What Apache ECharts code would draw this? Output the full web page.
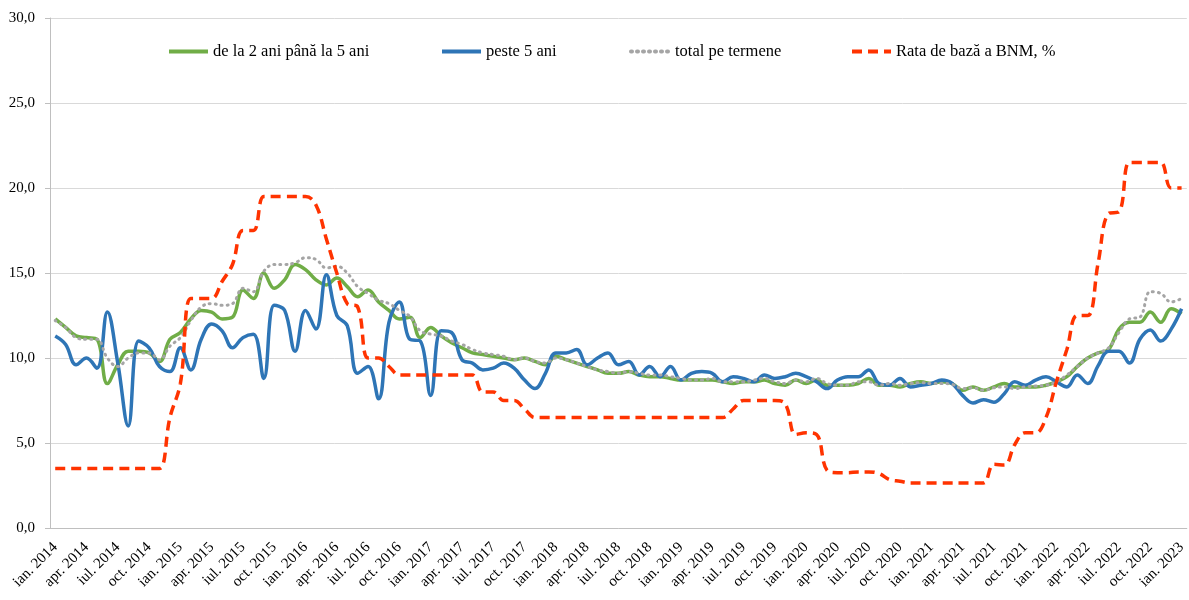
<!DOCTYPE html>
<html>
<head>
<meta charset="utf-8">
<script src="https://cdn.jsdelivr.net/npm/echarts@6/dist/echarts.min.js"></script>
<style>
  html, body { margin: 0; padding: 0; background: #fff; }
  #chart { width: 1189px; height: 600px; }
</style>
</head>
<body>
<div id="chart"></div>
<script>
// luni si ani pentru axa x (ian. 2014 - ian. 2023)
var monthNames = ["ian.", "feb.", "mar.", "apr.", "mai", "iun.", "iul.", "aug.", "sep.", "oct.", "nov.", "dec."];
var years = [2014, 2015, 2016, 2017, 2018, 2019, 2020, 2021, 2022, 2023];

var categories = [];
for (var y = 0; y < years.length; y++) {
    for (var m = 0; m < 12; m++) {
        if (years[y] === 2023 && m > 0) break;
        categories.push(monthNames[m] + " " + years[y]);
    }
}

var intermediar = [
    12.3, 11.8, 11.3, 11.2, 11.1, 8.5, 9.6, 10.4, 10.4, 10.3, 9.8, 11.1,
    11.5, 12.3, 12.8, 12.7, 12.3, 12.4, 14.0, 13.5, 15.0, 14.1, 14.6, 15.5,
    15.2, 14.6, 14.3, 14.7, 14.2, 13.6, 14.0, 13.3, 12.8, 12.3, 12.4, 11.2,
    11.8, 11.3, 10.9, 10.6, 10.3, 10.2, 10.1, 10.0, 9.9, 10.0, 9.8, 9.6,
    10.1, 9.9, 9.7, 9.5, 9.3, 9.1, 9.1, 9.2, 9.0, 8.9, 8.9, 8.8,
    8.7, 8.7, 8.7, 8.7, 8.6, 8.5, 8.6, 8.6, 8.7, 8.5, 8.4, 8.7,
    8.5, 8.7, 8.4, 8.4, 8.4, 8.5, 8.8, 8.4, 8.4, 8.3, 8.5, 8.6,
    8.5, 8.6, 8.5, 8.1, 8.3, 8.1, 8.3, 8.5, 8.3, 8.3, 8.3, 8.4,
    8.6, 8.9, 9.5, 10.0, 10.3, 10.5, 11.7, 12.1, 12.1, 12.7, 12.1, 12.9,
    12.6
];

var peste5 = [
    11.3, 10.8, 9.6, 10.0, 9.4, 12.7, 9.7, 6.0, 11.0, 10.6, 9.5, 9.2,
    10.6, 9.3, 11.1, 12.0, 11.6, 10.6, 11.2, 11.4, 8.8, 13.1, 12.8, 10.4,
    12.8, 11.7, 14.9, 12.5, 11.9, 9.1, 9.5, 7.6, 12.1, 13.3, 11.1, 11.0,
    7.8, 11.6, 11.5, 9.9, 9.7, 9.3, 9.4, 9.7, 9.4, 8.7, 8.2, 9.1,
    10.3, 10.3, 10.5, 9.6, 10.0, 10.3, 9.6, 9.8, 9.0, 9.5, 8.9, 9.5,
    8.7, 9.1, 9.2, 9.1, 8.6, 8.9, 8.8, 8.6, 9.0, 8.8, 8.9, 9.1,
    8.9, 8.6, 8.2, 8.7, 8.9, 8.9, 9.3, 8.5, 8.4, 8.8, 8.3, 8.4,
    8.5, 8.7, 8.5, 7.8, 7.35, 7.55, 7.4, 7.9, 8.6, 8.4, 8.7, 8.9,
    8.6, 8.3, 9.0, 8.5, 9.55, 10.4, 10.4, 9.7, 11.1, 11.65, 11.0, 11.7,
    12.9
];

var totalTermene = [
    12.2, 11.8, 11.2, 11.1, 11.1, 10.0, 9.5, 10.0, 10.3, 10.3, 9.9, 10.7,
    11.2, 12.2, 13.0, 13.2, 13.1, 13.2, 14.1, 13.9, 15.1, 15.5, 15.5, 15.6,
    15.9, 15.8, 15.3, 15.4, 15.0, 14.2, 13.8, 13.4, 13.2, 12.8, 12.45, 11.6,
    11.4, 11.3, 11.0, 10.8, 10.5, 10.3, 10.2, 10.1, 9.9, 10.0, 9.8, 9.7,
    10.0, 9.9, 9.7, 9.5, 9.3, 9.2, 9.1, 9.2, 9.1, 9.0, 9.0, 8.9,
    8.8, 8.7, 8.7, 8.8, 8.6, 8.6, 8.6, 8.7, 8.8, 8.6, 8.5, 8.7,
    8.6, 8.8, 8.5, 8.4, 8.4, 8.6, 8.6, 8.4, 8.5, 8.4, 8.5, 8.55,
    8.5, 8.5, 8.45, 8.2, 8.25, 8.1, 8.25, 8.3, 8.2, 8.3, 8.35, 8.4,
    8.6, 9.0, 9.5, 10.0, 10.3, 10.6, 11.5, 12.3, 12.4, 13.9, 13.8, 13.3,
    13.5
];

var rataBaza = [
    3.5, 3.5, 3.5, 3.5, 3.5, 3.5, 3.5, 3.5, 3.5, 3.5, 3.5, 6.5,
    8.5, 13.5, 13.5, 13.5, 14.5, 15.5, 17.5, 17.5, 19.5, 19.5, 19.5, 19.5,
    19.5, 19.0, 17.0, 15.0, 13.2, 13.0, 10.0, 10.0, 9.5, 9.0, 9.0, 9.0,
    9.0, 9.0, 9.0, 9.0, 9.0, 8.0, 8.0, 7.5, 7.5, 7.0, 6.5, 6.5,
    6.5, 6.5, 6.5, 6.5, 6.5, 6.5, 6.5, 6.5, 6.5, 6.5, 6.5, 6.5,
    6.5, 6.5, 6.5, 6.5, 6.5, 7.0, 7.5, 7.5, 7.5, 7.5, 7.3, 5.5,
    5.6, 5.5, 3.4, 3.25, 3.25, 3.3, 3.3, 3.2, 2.85, 2.75, 2.65, 2.65,
    2.65, 2.65, 2.65, 2.65, 2.65, 2.65, 3.75, 3.7, 4.9, 5.6, 5.6, 6.5,
    8.6, 10.5, 12.5, 12.5, 15.6, 18.5, 18.6, 21.5, 21.5, 21.5, 21.5, 20.0,
    20.0
];

var serifFont = "'Liberation Serif', 'Times New Roman', serif";

function legendAt(left, name) {
    return {
        data: [name],
        left: left,
        top: 43,
        padding: 0,
        itemWidth: 39,
        itemHeight: 14,
        itemStyle: { opacity: 0 },
        lineStyle: { width: 4 },
        textStyle: { fontFamily: serifFont, fontSize: 16.5, color: "#000" }
    };
}

var chart = echarts.init(document.getElementById("chart"));

chart.setOption({
    animation: false,
    backgroundColor: "#fff",
    grid: { left: 50, right: 0, top: 18, bottom: 72 },
    legend: [
        legendAt(167, "de la 2 ani până la 5 ani"),
        legendAt(440, "peste 5 ani"),
        legendAt(629, "total pe termene"),
        legendAt(850, "Rata de bază a BNM, %")
    ],
    xAxis: {
        type: "category",
        data: categories,
        boundaryGap: true,
        axisLine: { lineStyle: { color: "#BFBFBF", width: 1 } },
        axisTick: {
            alignWithLabel: true,
            interval: function (idx) { return idx % 3 === 1; },
            length: 5,
            lineStyle: { color: "#BFBFBF" }
        },
        axisLabel: {
            interval: 2,
            rotate: 45,
            margin: 17,
            fontFamily: serifFont,
            fontSize: 15,
            color: "#000"
        }
    },
    yAxis: {
        type: "value",
        min: 0,
        max: 30,
        interval: 5,
        axisLine: { show: true, lineStyle: { color: "#BFBFBF" } },
        axisTick: { show: true, length: 5, lineStyle: { color: "#BFBFBF" } },
        splitLine: { lineStyle: { color: "#D9D9D9", width: 1 } },
        axisLabel: {
            margin: 15,
            fontFamily: serifFont,
            fontSize: 15,
            color: "#000",
            formatter: function (v) { return v.toFixed(1).replace(".", ","); }
        }
    },
    series: [
        {
            name: "de la 2 ani până la 5 ani",
            type: "line",
            data: intermediar,
            smooth: 0.4,
            symbol: "none",
            color: "#70AD47",
            lineStyle: { color: "#70AD47", width: 3.5 }
        },
        {
            name: "peste 5 ani",
            type: "line",
            data: peste5,
            smooth: 0.4,
            symbol: "none",
            color: "#2E75B6",
            lineStyle: { color: "#2E75B6", width: 3.5 }
        },
        {
            name: "total pe termene",
            type: "line",
            data: totalTermene,
            smooth: 0.4,
            symbol: "none",
            color: "#A5A5A5",
            lineStyle: { color: "#A5A5A5", width: 3, type: [1, 5], cap: "round" }
        },
        {
            name: "Rata de bază a BNM, %",
            type: "line",
            data: rataBaza,
            smooth: 0.4,
            symbol: "none",
            color: "#FF3300",
            lineStyle: { color: "#FF3300", width: 3.5, type: [10, 6] }
        }
    ]
});
</script>
</body>
</html>
